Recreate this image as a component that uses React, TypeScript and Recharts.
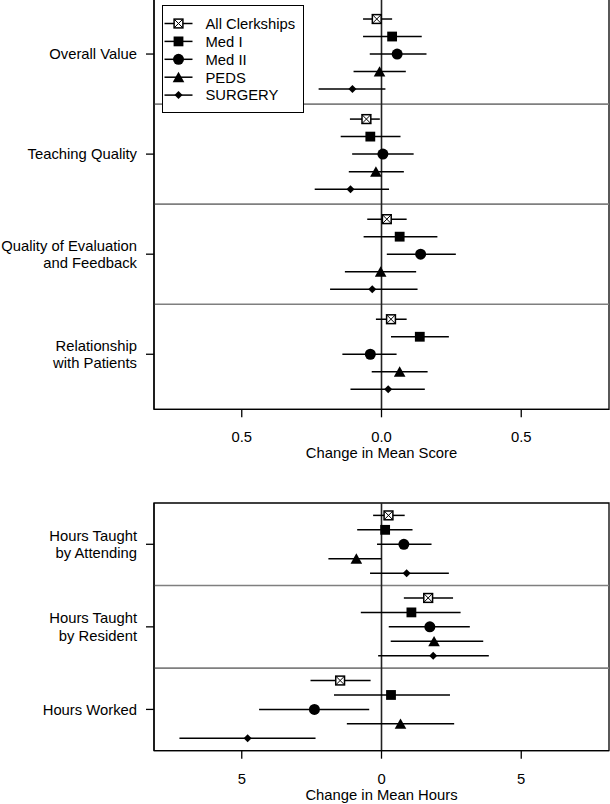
import React from 'react';
import { ScatterChart, Scatter, XAxis, YAxis, ErrorBar, ReferenceLine, ReferenceArea, Legend } from 'recharts';

const FONT = '"Liberation Sans", Arial, Helvetica, sans-serif';
const FS = 14.8;

const seriesNames = ['All Clerkships', 'Med I', 'Med II', 'PEDS', 'SURGERY'];
const scoreCategories = ['Overall Value', 'Teaching Quality', 'Quality of Evaluation\nand Feedback', 'Relationship\nwith Patients'];
const hoursCategories = ['Hours Taught\nby Attending', 'Hours Taught\nby Resident', 'Hours Worked'];
const scoreTicks = [-0.5, 0, 0.5];
const hoursTicks = [-5, 0, 5];

// each row: [estimate, lower, upper] per category
const scoreAll = [[-0.017, -0.066, 0.038], [-0.054, -0.113, -0.006], [0.019, -0.051, 0.09], [0.034, -0.02, 0.09]];
const scoreMedI = [[0.038, -0.066, 0.144], [-0.04, -0.146, 0.068], [0.065, -0.064, 0.2], [0.137, 0.034, 0.241]];
const scoreMedII = [[0.056, -0.042, 0.161], [0.005, -0.105, 0.115], [0.14, 0.019, 0.266], [-0.04, -0.14, 0.054]];
const scorePeds = [[-0.007, -0.1, 0.087], [-0.02, -0.117, 0.08], [-0.003, -0.131, 0.124], [0.065, -0.035, 0.165]];
const scoreSurgery = [[-0.104, -0.225, 0.014], [-0.111, -0.239, 0.027], [-0.033, -0.184, 0.129], [0.024, -0.111, 0.155]];

const hoursAll = [[0.25, -0.3, 0.83], [1.67, 0.8, 2.56], [-1.48, -2.54, -0.39]];
const hoursMedI = [[0.13, -0.87, 1.11], [1.07, -0.74, 2.83], [0.34, -1.7, 2.45]];
const hoursMedII = [[0.8, -0.16, 1.79], [1.73, 0.26, 3.16], [-2.4, -4.38, -0.44]];
const hoursPeds = [[-0.9, -1.9, 0], [1.88, 0.33, 3.64], [0.68, -1.24, 2.6]];
const hoursSurgery = [[0.9, -0.41, 2.41], [1.85, -0.12, 3.84], [-4.79, -7.23, -2.36]];

const ROW_STEP = 0.175;

function build(series: number[][][]) {
  return series.map((rows, s) =>
    rows.map(([est, lo, hi], g) => ({ x: est, y: g + (s - 2) * ROW_STEP, err: [est - lo, hi - est] }))
  );
}

const Marker = ({ kind, cx, cy }: { kind: number; cx: number; cy: number }) => {
  if (cx == null || cy == null || isNaN(cx) || isNaN(cy)) return null;
  if (kind === 0) {
    const h = 4.4;
    return (
      <g>
        <rect x={cx - h} y={cy - h} width={2 * h} height={2 * h} fill="#fff" stroke="#000" strokeWidth={1.5} />
        <line x1={cx - h} y1={cy - h} x2={cx + h} y2={cy + h} stroke="#000" strokeWidth={1} />
        <line x1={cx - h} y1={cy + h} x2={cx + h} y2={cy - h} stroke="#000" strokeWidth={1} />
      </g>
    );
  }
  if (kind === 1) {
    const h = 4.9;
    return <rect x={cx - h} y={cy - h} width={2 * h} height={2 * h} fill="#000" />;
  }
  if (kind === 2) return <circle cx={cx} cy={cy} r={5.5} fill="#000" />;
  if (kind === 3) {
    const w = 5.8;
    return <polygon points={`${cx - w},${cy + 5} ${cx + w},${cy + 5} ${cx},${cy - 5.4}`} fill="#000" />;
  }
  const d = 4;
  return <polygon points={`${cx},${cy - d} ${cx + d},${cy} ${cx},${cy + d} ${cx - d},${cy}`} fill="#000" />;
};

const LegendBox = (props: any) => {
  const payload: any[] = props?.payload ?? [];
  const names = payload.length ? payload.map((p: any) => p.value) : seriesNames;
  return (
    <div style={{ width: 142, height: 108, boxSizing: 'border-box', border: '1.5px solid #000', background: '#fff' }}>
      <svg width={139} height={105} style={{ display: 'block' }}>
        {names.map((n: string) => {
          const i = seriesNames.indexOf(n);
          const yy = 17.5 + i * 17.9;
          return (
            <g key={n}>
              <line x1={1.5} x2={29.5} y1={yy} y2={yy} stroke="#000" strokeWidth={1.5} />
              <Marker kind={i} cx={15.5} cy={yy} />
              <text x={42.5} y={yy + 5.3} fontFamily={FONT} fontSize={FS} fill="#000">{n}</text>
            </g>
          );
        })}
      </svg>
    </div>
  );
};

const makeCatTick = (cats: string[]) => (props: any) => {
  const { x, y, payload } = props;
  const label = cats[Math.round(payload.value)];
  if (label == null) return null;
  const lines = label.split('\n');
  const offs = lines.length === 1 ? [5.3] : [-3.5, 14.1];
  return (
    <text x={x} y={y} textAnchor="end" fontFamily={FONT} fontSize={FS} fill="#000">
      {lines.map((l, i) => (
        <tspan key={i} x={x} y={y + offs[i]}>{l}</tspan>
      ))}
    </text>
  );
};

type PanelProps = {
  height: number;
  margin: { top: number; right: number; bottom: number; left: number };
  cats: string[];
  series: number[][][];
  xTicks: number[];
  xDomain: [number, number];
  yDomain: [number, number];
  fmt: (v: number) => string;
  title: string;
  legend: boolean;
};

const Panel = ({ height, margin, cats, series, xTicks, xDomain, yDomain, fmt, title, legend }: PanelProps) => {
  const data = build(series);
  const seps = cats.slice(1).map((_, i) => i + 0.5);
  return (
    <ScatterChart width={610} height={height} margin={margin}>
      <XAxis
        type="number"
        dataKey="x"
        domain={xDomain}
        ticks={xTicks}
        interval={0}
        allowDataOverflow
        height={50}
        tickSize={8}
        tickMargin={14.3}
        tickFormatter={fmt}
        tick={{ fill: '#000', fontSize: FS, fontFamily: FONT }}
        axisLine={{ stroke: '#000', strokeWidth: 1.3 }}
        tickLine={{ stroke: '#000', strokeWidth: 1.3 }}
        label={{ value: title, position: 'insideBottom', offset: 1, fill: '#000', fontSize: FS, fontFamily: FONT }}
      />
      <YAxis
        type="number"
        dataKey="y"
        domain={yDomain}
        ticks={cats.map((_, i) => i)}
        interval={0}
        reversed
        allowDataOverflow
        width={154}
        tickSize={8}
        tickMargin={9}
        tick={makeCatTick(cats)}
        axisLine={{ stroke: '#000', strokeWidth: 1.3 }}
        tickLine={{ stroke: '#000', strokeWidth: 1.3 }}
      />
      <ReferenceArea
        x1={xDomain[0]}
        x2={xDomain[1]}
        y1={yDomain[0]}
        y2={yDomain[1]}
        fill="none"
        fillOpacity={0}
        stroke="#000"
        strokeWidth={1.3}
        ifOverflow="visible"
      />
      {seps.map((s) => (
        <ReferenceLine key={s} y={s} stroke="#7f7f7f" strokeWidth={1.6} />
      ))}
      <ReferenceLine x={0} stroke="#222" strokeWidth={1.6} />
      {data.map((d, i) => (
        <Scatter
          key={seriesNames[i]}
          name={seriesNames[i]}
          data={d}
          isAnimationActive={false}
          shape={(p: any) => <Marker kind={i} cx={p.cx} cy={p.cy} />}
        >
          <ErrorBar dataKey="err" direction="x" width={0} stroke="#000" strokeWidth={1.5} isAnimationActive={false} />
        </Scatter>
      ))}
      {legend && (
        <Legend
          layout="horizontal"
          verticalAlign="middle"
          align="center"
          wrapperStyle={{ top: 6, left: 162, width: 142, height: 108 }}
          content={<LegendBox />}
        />
      )}
    </ScatterChart>
  );
};

export default function App() {
  return (
    <div style={{ position: 'absolute', left: 0, top: -1, width: 610, background: '#fff' }}>
      <Panel
        height={470}
        margin={{ top: 0, right: 1, bottom: 9.7, left: 0 }}
        cats={scoreCategories}
        series={[scoreAll, scoreMedI, scoreMedII, scorePeds, scoreSurgery]}
        xTicks={scoreTicks}
        xDomain={[-0.814, 0.814]}
        yDomain={[-0.55, 3.55]}
        fmt={(v) => Math.abs(v).toFixed(1)}
        title="Change in Mean Score"
        legend={true}
      />
      <Panel
        height={334}
        margin={{ top: 34, right: 1, bottom: 2.3, left: 0 }}
        cats={hoursCategories}
        series={[hoursAll, hoursMedI, hoursMedII, hoursPeds, hoursSurgery]}
        xTicks={hoursTicks}
        xDomain={[-8.14, 8.14]}
        yDomain={[-0.5, 2.5]}
        fmt={(v) => String(Math.abs(v))}
        title="Change in Mean Hours"
        legend={false}
      />
    </div>
  );
}
